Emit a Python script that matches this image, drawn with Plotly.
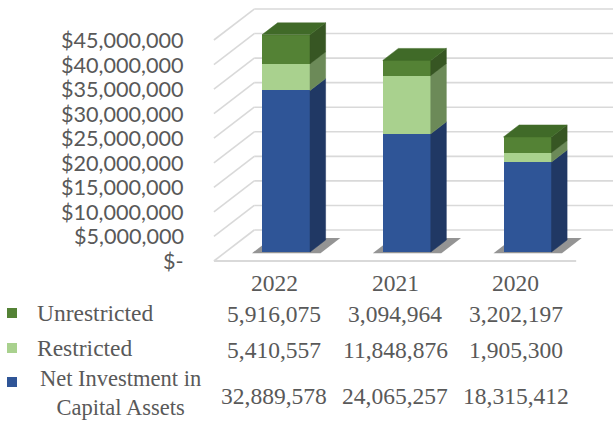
import plotly.graph_objects as go

# ---- data -----------------------------------------------------------------
years = ["2022", "2021", "2020"]
unrestricted = [5916075, 3094964, 3202197]
restricted = [5410557, 11848876, 1905300]
net_investment = [32889578, 24065257, 18315412]
series_names = ["Unrestricted", "Restricted", "Net Investment in<br>Capital Assets"]
tick_values = [0, 5e6, 10e6, 15e6, 20e6, 25e6, 30e6, 35e6, 40e6, 45e6]
tick_labels = ["$-", "$5,000,000", "$10,000,000", "$15,000,000", "$20,000,000",
               "$25,000,000", "$30,000,000", "$35,000,000", "$40,000,000", "$45,000,000"]

# ---- geometry of the oblique 3D view ---------------------------------------
W, H = 613, 421
PX_U = 120.75          # pixels per category step
PX_V = 4.911e-6        # pixels per dollar
X0_PX, Y0_PX = 286, 252  # pixel of category 0 / $0 on the bar front plane
DU = 1.3 / PX_U          # category shift per pixel of depth
DV = 1.0 / PX_V          # dollar shift per pixel of depth
BAR_W = 0.3975
BAR_DEPTH = 12
FRONT_DEPTH = -9
BACK_DEPTH = 22

x_range = [-X0_PX / PX_U, (W - X0_PX) / PX_U]
y_range = [(Y0_PX - H) / PX_V, Y0_PX / PX_V]


def proj(u, v, d):
    return u + d * DU, v + d * DV


def path_of(pts):
    return "M " + " L ".join(f"{x},{y}" for x, y in pts) + " Z"


GRID = "#D9D9D9"
TXT = "#595959"

front_cols = {"net": "#2F5597", "res": "#A9D18E", "unr": "#548235"}
side_cols = {"net": "#203864", "res": "#6C8A58", "unr": "#375623"}
top_cols = {"net": "#27497F", "res": "#93B87A", "unr": "#406A28"}

fig = go.Figure()
shapes = []

# walls: left-wall diagonals, back-wall horizontals, floor front edge
for t in tick_values:
    x1, y1 = proj(-0.5, t, FRONT_DEPTH)
    x2, y2 = proj(-0.5, t, BACK_DEPTH)
    x3, _ = proj(2.5, t, BACK_DEPTH)
    shapes.append(dict(type="line", xref="x", yref="y", x0=x1, y0=y1, x1=x2, y1=y2,
                       line=dict(color=GRID, width=1.6), layer="below"))
    shapes.append(dict(type="line", xref="x", yref="y", x0=x2, y0=y2, x1=x3 + 0.1, y1=y2,
                       line=dict(color=GRID, width=1.6), layer="below"))
fx1, fy = proj(-0.5, 0, FRONT_DEPTH)
fx2, _ = proj(2.5, 0, FRONT_DEPTH)
shapes.append(dict(type="line", xref="x", yref="y", x0=fx1, y0=fy, x1=fx2, y1=fy,
                   line=dict(color=GRID, width=1.8), layer="below"))

xs = list(range(len(years)))

# soft floor shadows under each column (kept beneath the bars)
for i in xs:
    ul, ur = i - BAR_W / 2 - 0.07, i + BAR_W / 2 + 0.1
    pts = [proj(ul, 0, -1.2), proj(ur, 0, -1.2), proj(ur, 0, BAR_DEPTH + 2), proj(ul, 0, BAR_DEPTH + 2)]
    shapes.append(dict(type="path", xref="x", yref="y", path=path_of(pts),
                       fillcolor="rgba(60,60,60,0.55)", line=dict(width=0), layer="below"))

# front faces of the stacked columns
stack = [("net", net_investment), ("res", restricted), ("unr", unrestricted)]
for key, vals in stack:
    fig.add_trace(go.Bar(x=xs, y=vals, width=BAR_W, marker=dict(color=front_cols[key], line=dict(width=0)),
                         hoverinfo="skip", showlegend=False))

# side and top faces
for i in xs:
    base = 0
    ur = i + BAR_W / 2
    ul = i - BAR_W / 2
    for key, vals in stack:
        top = base + vals[i]
        pts = [(ur, base), (ur, top), proj(ur, top, BAR_DEPTH), proj(ur, base, BAR_DEPTH)]
        fig.add_trace(go.Scatter(x=[p[0] for p in pts] + [pts[0][0]], y=[p[1] for p in pts] + [pts[0][1]],
                                 fill="toself", fillcolor=side_cols[key], mode="lines",
                                 line=dict(width=0.5, color=side_cols[key]),
                                 hoverinfo="skip", showlegend=False))
        base = top
    key = stack[-1][0]
    pts = [(ul, base), (ur, base), proj(ur, base, BAR_DEPTH), proj(ul, base, BAR_DEPTH)]
    fig.add_trace(go.Scatter(x=[p[0] for p in pts] + [pts[0][0]], y=[p[1] for p in pts] + [pts[0][1]],
                             fill="toself", fillcolor=top_cols[key], mode="lines",
                             line=dict(width=0.5, color=top_cols[key]),
                             hoverinfo="skip", showlegend=False))

annotations = []

# value axis labels on the front plane
for t, lab in zip(tick_values, tick_labels):
    _, yl = proj(-0.5, t, FRONT_DEPTH)
    annotations.append(dict(x=186 / W, xref="paper", y=yl, yref="y", text=lab, showarrow=False,
                            xanchor="right", yanchor="middle",
                            font=dict(family="Lato", size=21.6, color=TXT)))

SERIF = "Liberation Serif"
FS = 23.5


def py(px):
    return 1 - px / H


# category labels and data table
table_rows = [unrestricted, restricted, net_investment]
row_y = [314, 350, 396]
for i, yr in enumerate(years):
    xc, _ = proj(i, 0, FRONT_DEPTH)
    annotations.append(dict(x=xc, xref="x", y=py(283), yref="paper", text=yr, showarrow=False,
                            xanchor="center", yanchor="middle",
                            font=dict(family=SERIF, size=FS, color=TXT)))
    for vals, ry in zip(table_rows, row_y):
        annotations.append(dict(x=xc, xref="x", y=py(ry), yref="paper", text=f"{vals[i]:,}",
                                showarrow=False, xanchor="center", yanchor="middle",
                                font=dict(family=SERIF, size=FS, color=TXT)))

# legend keys and series names
key_cols = [front_cols["unr"], front_cols["res"], front_cols["net"]]
key_y = [313, 348, 382]
for col, ky in zip(key_cols, key_y):
    shapes.append(dict(type="rect", xref="paper", yref="paper",
                       x0=7 / W, x1=17 / W, y0=py(ky + 5), y1=py(ky - 5),
                       fillcolor=col, line=dict(width=0)))
for name, ky in zip(series_names[:2], key_y[:2]):
    annotations.append(dict(x=35 / W, xref="paper", y=py(ky), yref="paper", text=name,
                            showarrow=False, xanchor="left", yanchor="middle",
                            font=dict(family=SERIF, size=FS, color=TXT)))
annotations.append(dict(x=120 / W, xref="paper", y=0, yref="paper", text=series_names[2],
                        showarrow=False, xanchor="center", yanchor="bottom", align="center",
                        borderpad=0, font=dict(family=SERIF, size=22.5, color=TXT)))

fig.update_layout(
    width=W, height=H, margin=dict(l=0, r=0, t=0, b=0),
    paper_bgcolor="white", plot_bgcolor="white",
    barmode="stack", bargap=0,
    xaxis=dict(range=x_range, visible=False, fixedrange=True),
    yaxis=dict(range=y_range, visible=False, fixedrange=True),
    shapes=shapes, annotations=annotations, showlegend=False,
)

fig.write_html("out.html")
